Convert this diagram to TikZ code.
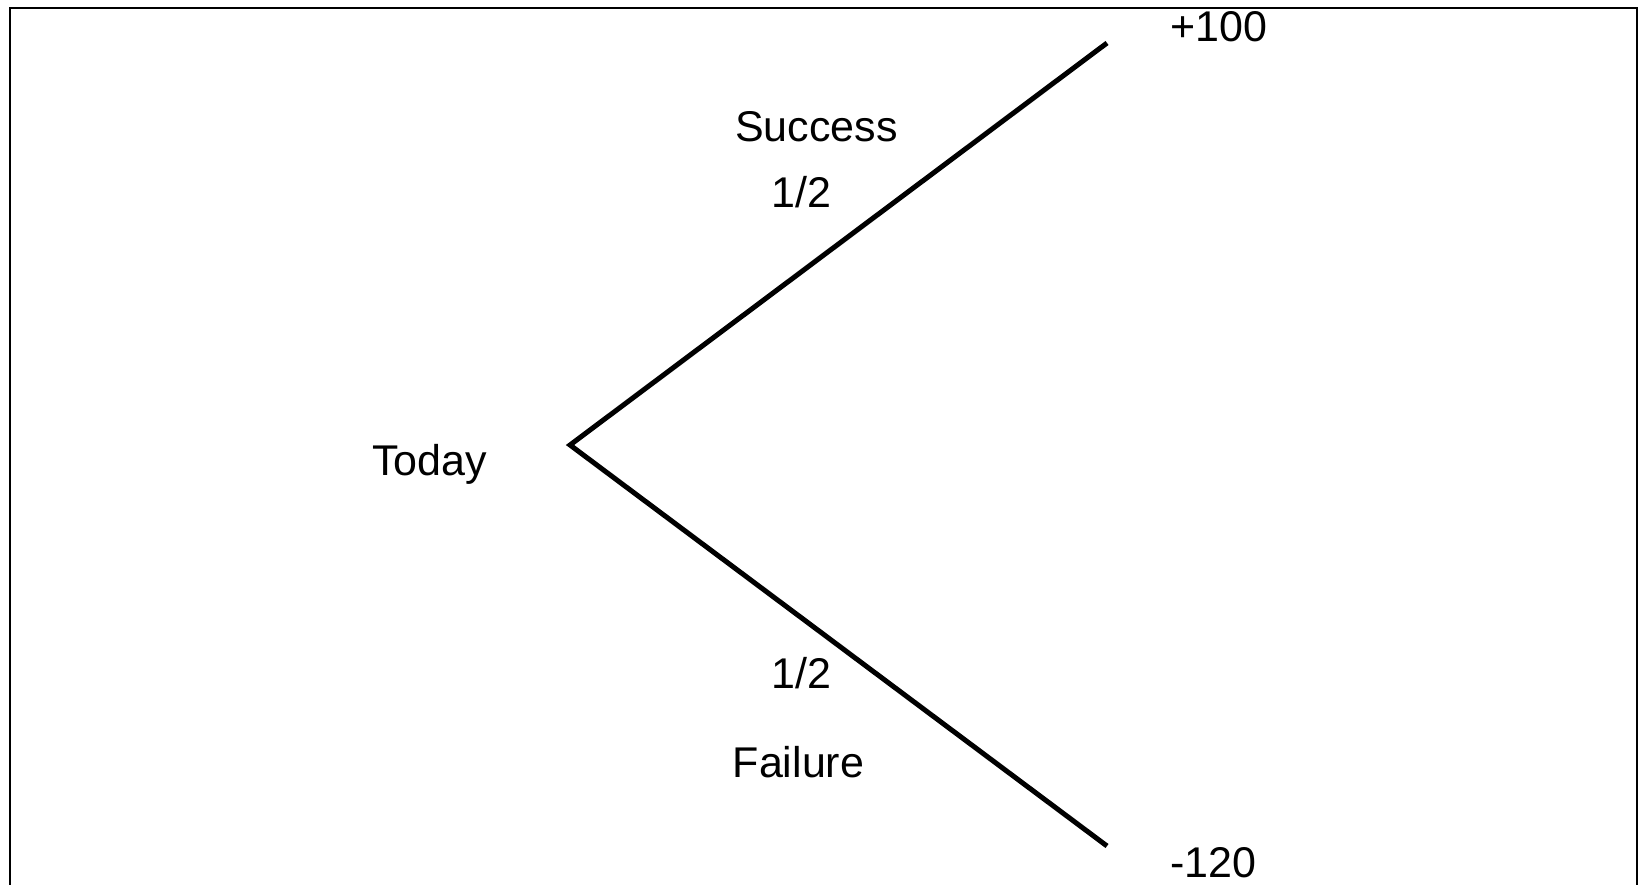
\documentclass[tikz,border=0pt]{standalone}
\usepackage{fontspec}
\setmainfont{Liberation Sans}
\begin{document}
\begin{tikzpicture}[x=1pt, y=-1pt, font=\fontsize{43}{51}\selectfont,
    lbl/.style={inner sep=0pt, anchor=base},
    branch/.style={line width=5pt, line join=miter}]
        \clip (0,0) rectangle (1643,885);
        \draw[line width=2pt] (9.5,8) rectangle (1637,900);
        \coordinate (R) at (570,445);
        \coordinate (S) at (1107,43);
        \coordinate (F) at (1107,846);
        \node[lbl] (today) at (429.5,475) {Today};
        \node[lbl] (succ) at (816.5,142) {Success};
        \node[lbl] (pS) at (801.5,208) {1/2};
        \node[lbl] (pF) at (801.5,688) {1/2};
        \node[lbl] (fail) at (798.5,777) {Failure};
        \node[lbl, anchor=base west] (up) at (1170,42) {+100};
        \node[lbl, anchor=base west] (down) at (1170,877) {-120};
        \draw[branch] (S) -- (R) -- (F);
    \end{tikzpicture}
\end{document}
